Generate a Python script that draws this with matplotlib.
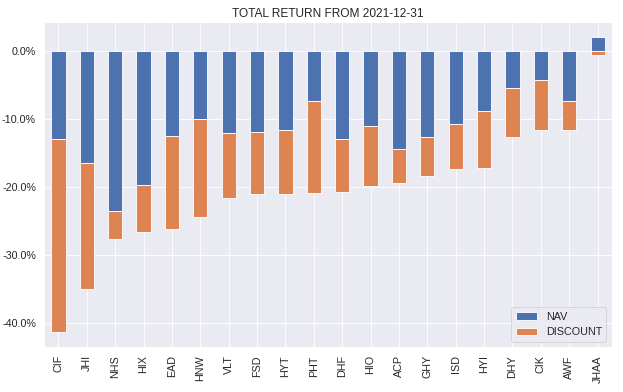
import matplotlib

matplotlib.use("Agg")

import matplotlib.pyplot as plt
import pandas as pd
import seaborn as sns
from matplotlib.ticker import FuncFormatter

TICKERS = ["CIF", "JHI", "NHS", "HIX", "EAD", "HNW", "VLT", "FSD", "HYT", "PHT",
           "DHF", "HIO", "ACP", "GHY", "ISD", "HYI", "DHY", "CIK", "AWF", "JHAA"]
NAV = [-13.0, -16.5, -23.5, -19.8, -12.5, -10.0, -12.1, -11.9, -11.6, -7.3,
       -12.9, -11.1, -14.4, -12.6, -10.8, -8.9, -5.4, -4.2, -7.3, 2.1]
DISCOUNT = [-28.4, -18.6, -4.2, -6.9, -13.7, -14.4, -9.5, -9.2, -9.5, -13.6,
            -7.9, -8.8, -5.0, -5.8, -6.6, -8.4, -7.3, -7.5, -4.4, -0.65]

sns.set_theme()
plt.rcParams["font.family"] = ["Liberation Sans", "DejaVu Sans"]

df = pd.DataFrame({"NAV": NAV, "DISCOUNT": DISCOUNT}, index=TICKERS)

fig, ax = plt.subplots(figsize=(10, 392 / 62.3), dpi=62.3)
df.plot.bar(stacked=True, ax=ax, edgecolor="white", linewidth=1)
ax.set_title("TOTAL RETURN FROM 2021-12-31", fontsize=13.7)
ax.yaxis.set_major_formatter(FuncFormatter(lambda v, _: f"{v:.1f}%"))
ax.tick_params(labelsize=12.5)
ax.legend(loc="lower right", fontsize=12.5)
fig.subplots_adjust(left=0.071, right=0.982, top=0.944, bottom=0.115)
fig.savefig("out.png", dpi=62.3)
